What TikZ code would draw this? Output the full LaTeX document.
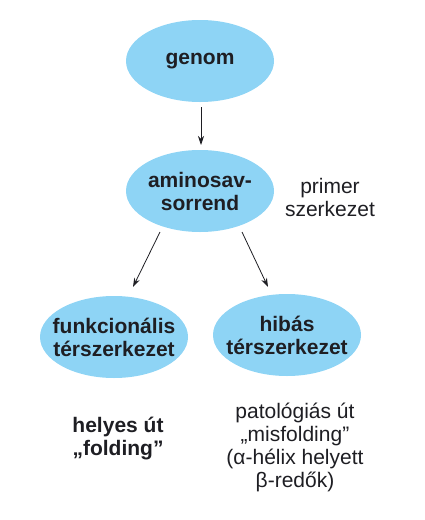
\documentclass[tikz,border=0pt]{standalone}
\usepackage{fontspec}
\setmainfont{Liberation Sans}
\usetikzlibrary{shapes.geometric,arrows.meta}
\definecolor{cellblue}{RGB}{142,212,245}
\definecolor{txt}{RGB}{30,30,35}
\tikzset{
  blob/.style={ellipse,fill=cellblue,draw=none,minimum width=148pt,minimum height=82pt,inner xsep=-14pt,inner ysep=0pt,
    text=txt,font=\fontsize{21}{23}\selectfont\bfseries,align=center},
  lbl/.style={text=txt,font=\fontsize{21}{23}\selectfont,align=center,inner sep=0pt},
  conn/.style={-{Stealth[length=9pt,width=6pt]},line width=0.8pt,draw=txt}
}
\begin{document}
\begin{tikzpicture}[x=1pt,y=-1pt]
\useasboundingbox (0,0) rectangle (424,520);
\node[blob] (genom) at (200,61) {genom};
\node[blob] (amino) at (200,191) {aminosav-\\sorrend};
\node[blob] (funk) at (114,337) {funkcionális\\térszerkezet};
\node[blob] (hibas) at (287,335) {hibás\\térszerkezet};
\node[lbl] (primer) at (330,197) {primer\\szerkezet};
\node[lbl,font=\fontsize{21}{23}\selectfont\bfseries] (helyes) at (118,439) {helyes út\\„folding”};
\node[lbl] (pato) at (295,447) {patológiás út\\„misfolding”\\(α-hélix helyett\\β-redők)};
\coordinate (g1) at (201,107);
\coordinate (g2) at (201,145);
\draw[conn] (g1) -- (g2);
\coordinate (a1) at (160,232);
\coordinate (a2) at (133,287);
\draw[conn] (a1) -- (a2);
\coordinate (b1) at (242,232);
\coordinate (b2) at (268,287);
\draw[conn] (b1) -- (b2);
\end{tikzpicture}
\end{document}
